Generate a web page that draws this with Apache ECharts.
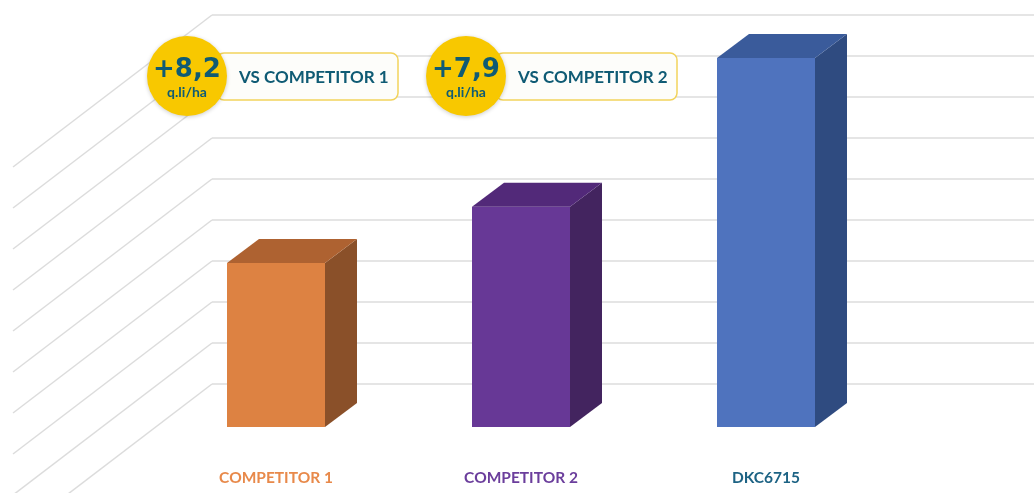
<!DOCTYPE html>
<html>
<head>
<meta charset="utf-8">
<script src="https://cdn.jsdelivr.net/npm/echarts@6/dist/echarts.min.js"></script>
<style>
  html, body { margin: 0; padding: 0; background: #ffffff; }
  #main { width: 1034px; height: 493px; }
</style>
</head>
<body>
<div id="main"></div>
<script>
  // 数据
  const categories = ['COMPETITOR 1', 'COMPETITOR 2', 'DKC6715'];
  const barValues = [4.0, 5.37, 9.0];
  const wallTicks = [1, 2, 3, 4, 5, 6, 7, 8, 9, 10];
  const badgeValues = ['+8,2', '+7,9'];
  const badgeLabels = ['VS COMPETITOR 1', 'VS COMPETITOR 2'];
  const badgeUnit = 'q.li/ha';

  // 颜色 正面 / 侧面 / 顶面
  const frontColors = ['#DD8242', '#673896', '#4F73BE'];
  const sideColors = ['#8A5029', '#43245F', '#2F4B80'];
  const topColors = ['#AE6231', '#522979', '#3A5B9B'];
  const labelColors = ['#E8894A', '#6B3E9C', '#1D6384'];

  const textDark = '#0F5B74';
  const FONT = 'Lato, "Open Sans", sans-serif';

  let myChart = echarts.init(document.getElementById('main'));

  // 徽章
  function badge(cx, cy, rectRight, value, label) {
    return [
      {
        type: 'rect',
        shape: { x: cx + 30, y: 53, width: rectRight - cx - 30, height: 47, r: 7 },
        style: { fill: '#FDFDFA', stroke: '#F2D35C', lineWidth: 1.5 },
        z: 100
      },
      {
        type: 'text',
        x: cx + 52, y: 78,
        style: { text: label, fill: textDark, font: 'bold 17px ' + FONT, textVerticalAlign: 'middle' },
        z: 101
      },
      {
        type: 'circle',
        shape: { cx: cx, cy: cy, r: 40 },
        style: { fill: '#F8C800', shadowBlur: 4, shadowColor: 'rgba(0,0,0,0.2)', shadowOffsetY: 1 },
        z: 102
      },
      {
        type: 'text',
        x: cx, y: cy - 6,
        style: { text: value, fill: textDark, font: 'bold 26px "DejaVu Sans", sans-serif', textAlign: 'center', textVerticalAlign: 'middle' },
        z: 103
      },
      {
        type: 'text',
        x: cx, y: cy + 16,
        style: { text: badgeUnit, fill: textDark, font: 'bold 14px ' + FONT, textAlign: 'center', textVerticalAlign: 'middle' },
        z: 103
      }
    ];
  }

  const BAR_W = 98;
  const DX = 32;
  const DY = -24;

  myChart.setOption({
    backgroundColor: '#ffffff',
    animation: false,
    grid: [
      // 背景墙
      { left: 212, right: 0, top: 15, bottom: 109 },
      // 柱子
      { left: 153.5, right: 145.5, top: 17, bottom: 66 }
    ],
    xAxis: [
      { gridIndex: 0, type: 'value', min: 0, max: 1, show: false },
      {
        gridIndex: 1,
        type: 'category',
        data: categories,
        axisLine: { show: false },
        axisTick: { show: false },
        axisLabel: {
          margin: 43,
          fontFamily: FONT,
          fontWeight: 'bold',
          fontSize: 15.5,
          color: function (value, index) {
            return labelColors[index];
          }
        }
      }
    ],
    yAxis: [
      {
        gridIndex: 0,
        type: 'value',
        min: 1,
        max: 10,
        interval: 1,
        axisLine: { show: false },
        axisTick: { show: false },
        axisLabel: { show: false },
        splitLine: { show: true, lineStyle: { color: '#DCDCDC', width: 1.5 } }
      },
      { gridIndex: 1, type: 'value', min: 0, max: 10, show: false }
    ],
    series: [
      {
        // 斜线
        type: 'custom',
        xAxisIndex: 0,
        yAxisIndex: 0,
        data: wallTicks,
        silent: true,
        renderItem: function (params, api) {
          let p = api.coord([0, api.value(0)]);
          return {
            type: 'line',
            shape: { x1: p[0], y1: p[1], x2: p[0] - 199, y2: p[1] + 152 },
            style: { stroke: '#DCDCDC', lineWidth: 1.5 }
          };
        }
      },
      {
        // 立体柱
        type: 'custom',
        xAxisIndex: 1,
        yAxisIndex: 1,
        data: barValues.map(function (v, i) { return [i, v]; }),
        z: 10,
        renderItem: function (params, api) {
          let i = api.value(0);
          let top = api.coord([i, api.value(1)]);
          let base = api.coord([i, 0]);
          let l = top[0] - BAR_W / 2;
          let r = top[0] + BAR_W / 2;
          let t = top[1];
          let b = base[1];
          return {
            type: 'group',
            children: [
              {
                type: 'rect',
                shape: { x: l, y: t, width: BAR_W, height: b - t },
                style: { fill: frontColors[i] }
              },
              {
                type: 'polygon',
                shape: { points: [[r, t], [r + DX, t + DY], [r + DX, b + DY], [r, b]] },
                style: { fill: sideColors[i] }
              },
              {
                type: 'polygon',
                shape: { points: [[l, t], [l + DX, t + DY], [r + DX, t + DY], [r, t]] },
                style: { fill: topColors[i] }
              }
            ]
          };
        }
      }
    ],
    graphic: badge(187, 76, 398, badgeValues[0], badgeLabels[0])
      .concat(badge(466, 76, 677, badgeValues[1], badgeLabels[1]))
  });
</script>
</body>
</html>
